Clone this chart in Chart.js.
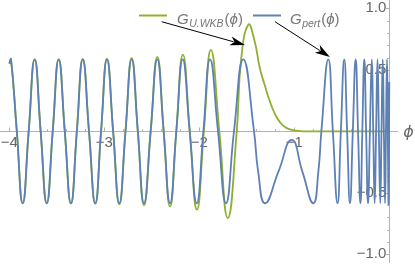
<!DOCTYPE html>
<html>
<head>
<meta charset="utf-8">
<script src="https://cdn.jsdelivr.net/npm/chart.js@4"></script>
<style>
  html, body { margin: 0; padding: 0; background: #fff; }
  #wrap { width: 415px; height: 264px; }
</style>
</head>
<body>
<div id="wrap"><canvas id="grafico" width="415" height="264"></canvas></div>
<script>
// G_pert(phi): picchi, zeri e minimi
const phiPert = [
  -4.000, -3.982, -3.921, -3.859, -3.796, -3.733, -3.670, -3.606, -3.543, -3.480,
  -3.416, -3.351, -3.289, -3.227, -3.161, -3.095, -3.034, -2.972, -2.907, -2.842,
  -2.777, -2.712, -2.647, -2.582, -2.512, -2.442, -2.375, -2.308, -2.242, -2.175,
  -2.101, -2.027, -1.957, -1.887, -1.803, -1.719, -1.635, -1.537, -1.424, -1.380,
  -1.308, -1.168, -1.027, -0.914, -0.800, -0.747, -0.715, -0.642, -0.594, -0.545,
  -0.510, -0.474, -0.444, -0.414, -0.384, -0.354, -0.329, -0.304, -0.284, -0.263,
  -0.244, -0.224, -0.204, -0.184, -0.169, -0.154, -0.139, -0.124, -0.110, -0.095,
  -0.082, -0.069, -0.057, -0.045, -0.035, -0.024, -0.016, -0.007, 0.000
];
const gPert = [
  0.55, 0.585, 0, -0.585, 0, 0.585, 0, -0.585, 0, 0.585,
  0, -0.585, 0, 0.585, 0, -0.585, 0, 0.585, 0, -0.585,
  0, 0.585, 0, -0.585, 0, 0.585, 0, -0.585, 0, 0.585,
  0, -0.585, 0, 0.585, 0, -0.585, 0, 0.585, 0, -0.33,
  -0.585, -0.33, -0.07, -0.33, -0.585, -0.33, 0, 0.585, 0, -0.585,
  0, 0.585, 0, -0.585, 0, 0.585, 0, -0.585, 0, 0.585,
  0, -0.585, 0, 0.585, 0, -0.585, 0, 0.585, 0, -0.585,
  0, 0.585, 0, -0.585, 0, 0.585, 0, -0.585, 0.4
];

// G_U.WKB(phi)
const phiWkb = [
  -4.000, -3.982, -3.921, -3.859, -3.796, -3.733, -3.670, -3.606, -3.543, -3.480,
  -3.416, -3.351, -3.289, -3.227, -3.161, -3.095, -3.034, -2.972, -2.907, -2.842,
  -2.777, -2.712, -2.647, -2.582, -2.512, -2.442, -2.375, -2.308, -2.242, -2.173,
  -2.100, -2.025, -1.952, -1.878, -1.789, -1.700, -1.606, -1.560, -1.484, -1.420,
  -1.362, -1.309, -1.256, -1.203, -1.151, -1.088, -1.014, -0.940, -0.835, 0.000
];
const gWkb = [
  0.55, 0.585, 0, -0.585, 0, 0.585, 0, -0.585, 0, 0.585,
  0, -0.587, 0, 0.588, 0, -0.589, 0, 0.591, 0, -0.593,
  0, 0.596, 0, -0.600, 0, 0.605, 0, -0.611, 0, 0.624,
  0, -0.637, 0, 0.662, 0, -0.705, 0, 0.58, 0.866, 0.74,
  0.51, 0.37, 0.24, 0.14, 0.075, 0.03, 0.01, 0.002, 0, 0
];

const xTickLabels = [-4, -3, -2, -1];
const yTickLabels = [-1, -0.5, 0.5, 1];
const nomiSerie = ['U.WKB', 'pert'];
const coloreWkb = '#8fb032';
const colorePert = '#5e81b5';

function punti(xs, ys) {
  return xs.map((v, i) => ({ x: v, y: ys[i] }));
}

function meno(s) {
  return s.replace('-', '\u2212');
}

function freccia(ctx, x1, y1, x2, y2) {
  const ang = Math.atan2(y2 - y1, x2 - x1);
  const lung = 15, larg = 4.5;
  const bx = x2 - lung * Math.cos(ang), by = y2 - lung * Math.sin(ang);
  ctx.beginPath();
  ctx.moveTo(x1, y1);
  ctx.lineTo(bx + 3 * Math.cos(ang), by + 3 * Math.sin(ang));
  ctx.stroke();
  ctx.beginPath();
  ctx.moveTo(x2, y2);
  ctx.lineTo(bx + larg * Math.sin(ang), by - larg * Math.cos(ang));
  ctx.lineTo(bx + 4 * Math.cos(ang), by + 4 * Math.sin(ang));
  ctx.lineTo(bx - larg * Math.sin(ang), by + larg * Math.cos(ang));
  ctx.closePath();
  ctx.fill();
}

function etichetta(ctx, x, yb, sub) {
  const fam = '"Liberation Sans", "DejaVu Sans", sans-serif';
  ctx.textAlign = 'left';
  ctx.textBaseline = 'alphabetic';
  ctx.font = 'italic 15px ' + fam;
  ctx.fillText('G', x, yb);
  x += ctx.measureText('G').width + 0.5;
  ctx.font = 'italic 10.5px ' + fam;
  ctx.fillText(sub, x, yb + 3);
  x += ctx.measureText(sub).width + 1;
  ctx.font = '15px ' + fam;
  ctx.fillText('(', x, yb);
  x += ctx.measureText('(').width;
  ctx.font = 'italic 15px ' + fam;
  ctx.fillText('\u03d5', x, yb);
  x += ctx.measureText('\u03d5').width;
  ctx.font = '15px ' + fam;
  ctx.fillText(')', x, yb);
}

const assiPlugin = {
  id: 'assi',
  beforeDatasetsDraw(chart) {
    const { ctx, scales: { x, y } } = chart;
    const x0 = Math.round(x.getPixelForValue(0)) + 0.5;
    const y0 = Math.round(y.getPixelForValue(0)) + 0.5;
    ctx.save();
    ctx.strokeStyle = '#b3b3b3';
    ctx.lineWidth = 1;
    ctx.beginPath();
    for (let i = -20; i < 0; i++) {
      const px = Math.round(x.getPixelForValue(i / 5)) + 0.5;
      const l = i % 5 === 0 ? 4 : 2.5;
      ctx.moveTo(px, y0);
      ctx.lineTo(px, y0 - l);
    }
    for (let i = -10; i <= 10; i++) {
      if (i === 0) continue;
      const py = Math.round(y.getPixelForValue(i / 10)) + 0.5;
      const l = i % 5 === 0 ? 4 : 2.5;
      ctx.moveTo(x0, py);
      ctx.lineTo(x0 - l, py);
    }
    ctx.stroke();
    ctx.restore();
  },
  afterDraw(chart) {
    const { ctx, scales: { x, y } } = chart;
    ctx.save();
    // legenda
    ctx.lineWidth = 2;
    ctx.strokeStyle = coloreWkb;
    ctx.beginPath(); ctx.moveTo(139, 15.5); ctx.lineTo(167, 15.5); ctx.stroke();
    ctx.strokeStyle = colorePert;
    ctx.beginPath(); ctx.moveTo(253, 15.5); ctx.lineTo(281, 15.5); ctx.stroke();
    ctx.fillStyle = '#777';
    etichetta(ctx, 177, 24, nomiSerie[0]);
    etichetta(ctx, 290, 24, nomiSerie[1]);
    // frecce
    ctx.strokeStyle = '#000';
    ctx.fillStyle = '#000';
    ctx.lineWidth = 1;
    freccia(ctx, x.getPixelForValue(-2.396), y.getPixelForValue(0.891),
                 x.getPixelForValue(-1.519), y.getPixelForValue(0.702));
    freccia(ctx, x.getPixelForValue(-1.203), y.getPixelForValue(0.891),
                 x.getPixelForValue(-0.625), y.getPixelForValue(0.604));
    // nome asse x
    ctx.fillStyle = '#666';
    ctx.font = 'italic 16px "DejaVu Sans", sans-serif';
    ctx.textAlign = 'center';
    ctx.textBaseline = 'middle';
    ctx.fillText('\u03d5', 408.5, 133);
    ctx.restore();
  }
};

const noPadding = (s) => {
  s.paddingLeft = 0; s.paddingRight = 0; s.paddingTop = 0; s.paddingBottom = 0;
};

new Chart(document.getElementById('grafico'), {
  type: 'line',
  data: {
    datasets: [{
      label: 'G_pert',
      data: punti(phiPert, gPert),
      borderColor: colorePert,
      borderWidth: 1.8,
      pointRadius: 0,
      tension: 0.5,
      fill: false,
      order: 0
    }, {
      label: 'G_U.WKB',
      data: punti(phiWkb, gWkb),
      borderColor: coloreWkb,
      borderWidth: 1.8,
      pointRadius: 0,
      tension: 0.5,
      fill: false,
      order: 1
    }]
  },
  options: {
    responsive: false,
    animation: false,
    devicePixelRatio: 1,
    layout: { padding: { left: 0, right: 18, top: 0, bottom: 2 } },
    plugins: { legend: { display: false }, tooltip: { enabled: false } },
    scales: {
      x: {
        type: 'linear',
        position: { y: 0 },
        min: -4.0979,
        max: 0.0811,
        afterFit: noPadding,
        afterBuildTicks: (s) => { s.ticks = xTickLabels.map(v => ({ value: v })); },
        grid: { display: false, drawTicks: false },
        border: { display: true, color: '#b3b3b3', width: 1 },
        ticks: {
          autoSkip: false,
          maxRotation: 0,
          padding: 3,
          color: '#666',
          font: { family: '"Liberation Sans", sans-serif', size: 15 },
          callback: (v) => meno(String(v))
        }
      },
      y: {
        type: 'linear',
        position: { x: 0 },
        min: -1.0626,
        max: 1.0675,
        afterFit: noPadding,
        afterBuildTicks: (s) => { s.ticks = yTickLabels.map(v => ({ value: v })); },
        grid: { display: false, drawTicks: false },
        border: { display: true, color: '#b3b3b3', width: 1 },
        ticks: {
          autoSkip: false,
          padding: 2,
          color: '#666',
          font: { family: '"Liberation Sans", sans-serif', size: 15 },
          callback: (v) => meno(Number(v).toFixed(1)) + '\u2009'
        }
      }
    }
  },
  plugins: [assiPlugin]
});
</script>
</body>
</html>
